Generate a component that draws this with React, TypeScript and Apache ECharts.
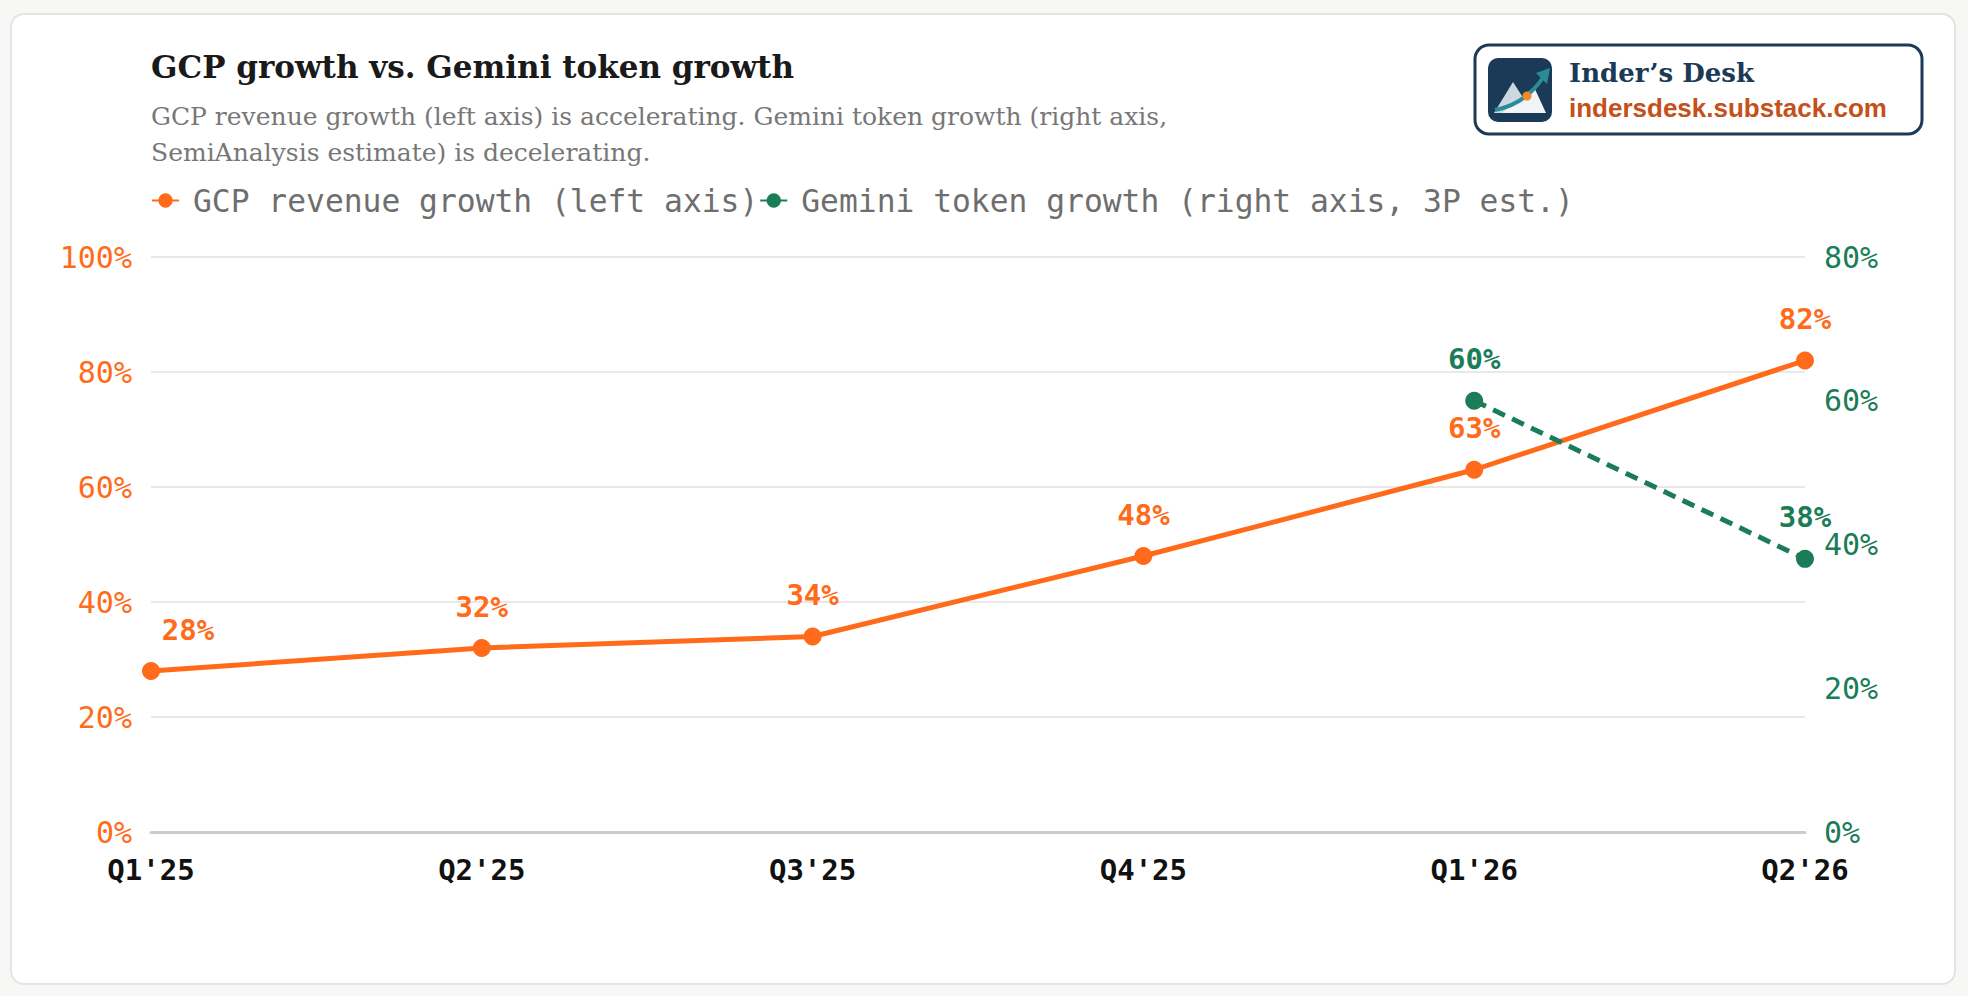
import { useEffect, useRef } from 'react'
import * as echarts from 'echarts'

const quarters = ["Q1'25", "Q2'25", "Q3'25", "Q4'25", "Q1'26", "Q2'26"]
const gcpGrowth = [28, 32, 34, 48, 63, 82]
const geminiGrowth: (number | null)[] = [null, null, null, null, 60, 38]

const gcpName = 'GCP revenue growth (left axis)'
const geminiName = 'Gemini token growth (right axis, 3P est.)'

const titleText = 'GCP growth vs. Gemini token growth'
const subtitleLines = [
  'GCP revenue growth (left axis) is accelerating. Gemini token growth (right axis,',
  'SemiAnalysis estimate) is decelerating.'
]

const ORANGE = '#ff6b1a'
const GREEN = '#1b7d58'
const NAVY = '#1b3a57'
const MONO = '"DejaVu Sans Mono", monospace'
const SERIF = '"DejaVu Serif", serif'

export default function App() {
  const chartRef = useRef<HTMLDivElement>(null)

  useEffect(() => {
    if (!chartRef.current) return
    const chart = echarts.init(chartRef.current, null, { renderer: 'svg' })

    const option = {
      animation: false,
      backgroundColor: 'transparent',
      graphic: [
        {
          type: 'text',
          x: 151,
          y: 67,
          style: { text: titleText, font: `bold 31px ${SERIF}`, fill: '#1a1a1a', verticalAlign: 'middle' }
        },
        ...subtitleLines.map((line, i) => ({
          type: 'text',
          x: 151,
          y: 116 + i * 36,
          style: { text: line, font: `25px ${SERIF}`, fill: '#777777', verticalAlign: 'middle' }
        })),
        // logo badge
        {
          type: 'group',
          children: [
            {
              type: 'rect',
              shape: { x: 1475, y: 45, width: 447, height: 89, r: 14 },
              style: { fill: '#ffffff', stroke: NAVY, lineWidth: 3 }
            },
            {
              type: 'rect',
              shape: { x: 1488, y: 58, width: 64, height: 64, r: 10 },
              style: { fill: NAVY }
            },
            {
              type: 'polygon',
              shape: { points: [[1494, 113], [1513, 82], [1533, 113]] },
              style: { fill: '#cdd7df' }
            },
            {
              type: 'polygon',
              shape: { points: [[1502, 113], [1534, 87], [1546, 113]] },
              style: { fill: '#f1f4f6' }
            },
            {
              type: 'bezierCurve',
              shape: { x1: 1495, y1: 110, cpx1: 1526, cpy1: 104, x2: 1544, y2: 76 },
              style: { stroke: '#2a8c96', lineWidth: 4, fill: 'none' }
            },
            {
              type: 'polygon',
              shape: { points: [[1550, 68], [1536, 73], [1547, 84]] },
              style: { fill: '#2a8c96' }
            },
            {
              type: 'circle',
              shape: { cx: 1527, cy: 96, r: 4.5 },
              style: { fill: '#f08a24' }
            },
            {
              type: 'text',
              x: 1569,
              y: 73,
              style: { text: 'Inder’s Desk', font: `bold 26px ${SERIF}`, fill: NAVY, verticalAlign: 'middle' }
            },
            {
              type: 'text',
              x: 1569,
              y: 108,
              style: {
                text: 'indersdesk.substack.com',
                font: 'bold 26px "Liberation Sans", Arial, sans-serif',
                fill: '#c4501a',
                verticalAlign: 'middle'
              }
            }
          ]
        }
      ],
      legend: {
        left: 151,
        top: 185,
        padding: 0,
        itemWidth: 27,
        itemHeight: 18,
        itemGap: 1,
        lineStyle: { type: 'solid' },
        textStyle: { fontFamily: MONO, fontSize: 31.3, color: '#6e6e6e', padding: [0, 0, 0, 9] },
        data: [gcpName, geminiName]
      },
      grid: { left: 151, right: 163, top: 257, bottom: 164 },
      xAxis: {
        type: 'category',
        data: quarters,
        boundaryGap: false,
        axisTick: { show: false },
        axisLine: { lineStyle: { color: '#cccccc', width: 3 } },
        axisLabel: { fontFamily: MONO, fontSize: 29, fontWeight: 'bold', color: '#111111', margin: 23 }
      },
      yAxis: [
        {
          type: 'value',
          min: 0,
          max: 100,
          interval: 20,
          axisLine: { show: false },
          axisTick: { show: false },
          splitLine: { lineStyle: { color: '#e8e8e8', width: 2 } },
          axisLabel: { fontFamily: MONO, fontSize: 30, color: ORANGE, margin: 19, formatter: '{value}%' }
        },
        {
          type: 'value',
          min: 0,
          max: 80,
          interval: 20,
          position: 'right',
          axisLine: { show: false },
          axisTick: { show: false },
          splitLine: { show: false },
          axisLabel: { fontFamily: MONO, fontSize: 30, color: GREEN, margin: 19, formatter: '{value}%' }
        }
      ],
      series: [
        {
          name: gcpName,
          type: 'line',
          yAxisIndex: 0,
          data: gcpGrowth.map((v, i) => (i === 0 ? { value: v, label: { offset: [37, 0] } } : v)),
          color: ORANGE,
          lineStyle: { width: 5, color: ORANGE },
          symbol: 'circle',
          symbolSize: 18,
          itemStyle: { color: ORANGE },
          label: {
            show: true,
            position: 'top',
            distance: 18,
            formatter: '{c}%',
            fontFamily: MONO,
            fontSize: 29,
            fontWeight: 'bold',
            color: ORANGE
          }
        },
        {
          name: geminiName,
          type: 'line',
          yAxisIndex: 1,
          data: geminiGrowth,
          color: GREEN,
          lineStyle: { width: 5, color: GREEN, type: [13, 8] },
          symbol: 'circle',
          symbolSize: 18,
          itemStyle: { color: GREEN },
          label: {
            show: true,
            position: 'top',
            distance: 18,
            formatter: '{c}%',
            fontFamily: MONO,
            fontSize: 29,
            fontWeight: 'bold',
            color: GREEN
          }
        }
      ]
    }

    chart.setOption(option)

    return () => {
      chart.dispose()
    }
  }, [])

  return (
    <div style={{ position: 'absolute', left: 0, top: 0, width: 1968, height: 996, background: '#f7f7f5' }}>
      <div
        style={{
          position: 'absolute',
          left: 10,
          top: 13,
          width: 1946,
          height: 972,
          boxSizing: 'border-box',
          background: '#ffffff',
          border: '2px solid #e4e4e4',
          borderRadius: 14
        }}
      />
      <div ref={chartRef} style={{ position: 'absolute', left: 0, top: 0, width: 1968, height: 996 }} />
    </div>
  )
}
